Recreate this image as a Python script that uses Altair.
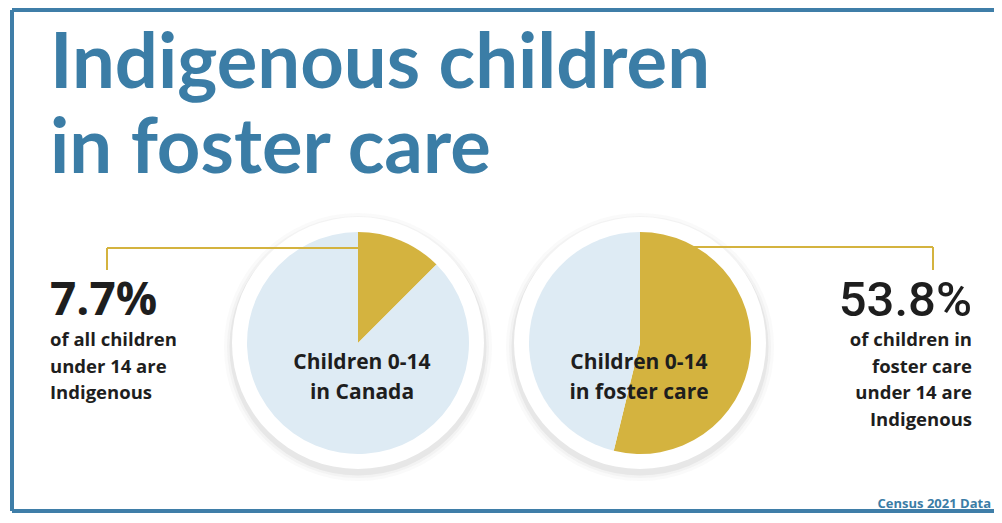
import math
import altair as alt
import pandas as pd

# ---------------- data ----------------
title_lines = ["Indigenous children", "in foster care"]
pie_names = ["Children 0-14 in Canada", "Children 0-14 in foster care"]
pie_label_lines = [["Children 0-14", "in Canada"], ["Children 0-14", "in foster care"]]
slice_parts = ["Indigenous", "Other"]
# share of each pie drawn as the gold (Indigenous) slice, as drawn in the picture
indigenous_slice = [12.5, 53.8]
stat_values = ["7.7%", "53.8%"]
stat_captions = [
    ["of all children", "under 14 are", "Indigenous"],
    ["of children in", "foster care", "under 14 are", "Indigenous"],
]
source_note = "Census 2021 Data"

# ---------------- layout & style ----------------
GOLD = "#d4b33f"
LIGHT = "#deebf4"
BLUE = "#3b7da6"
INK = "#1e1e1e"
TFONT = "Lato"
FONT = "Open Sans"

W, H = 986, 505
X0, Y0 = 8, 8
pie_cx = [358, 640]
pie_cy = [343, 343]
R_PIE = 111
R_RING = 126

xs = alt.Scale(domain=[X0, X0 + W], nice=False, zero=False)
ys = alt.Scale(domain=[Y0, Y0 + H], nice=False, zero=False, reverse=True)
ts = alt.Scale(domain=[0, 100], range=[0, 2 * math.pi])


def X(f):
    return alt.X(f"{f}:Q", scale=xs, axis=None)


def Y(f):
    return alt.Y(f"{f}:Q", scale=ys, axis=None)


# pie slices
rows = []
for i, name in enumerate(pie_names):
    v = indigenous_slice[i]
    rows.append(dict(pie=name, part=slice_parts[0], start=0.0, end=v, cx=pie_cx[i], cy=pie_cy[i]))
    rows.append(dict(pie=name, part=slice_parts[1], start=v, end=100.0, cx=pie_cx[i], cy=pie_cy[i]))
slices = pd.DataFrame(rows)

centers = pd.DataFrame({"pie": pie_names, "cx": pie_cx, "cy": pie_cy, "start": 0.0, "end": 100.0})
shadow = centers.assign(cy=centers["cy"] + 4)

layers = []

# borders
borders = pd.DataFrame({
    "x": [12, 12, 12],
    "x2": [994, 12, 994],
    "y": [10, 10, 511],
    "y2": [10, 511, 511],
})
layers.append(
    alt.Chart(borders).mark_rule(color="#3f7ea8", strokeWidth=4).encode(
        x=X("x"), x2="x2:Q", y=Y("y"), y2="y2:Q"
    )
)

# shadows (full discs)
for r, op in [(134, 0.03), (131, 0.05), (128.5, 0.09)]:
    layers.append(
        alt.Chart(shadow).mark_arc(outerRadius=r, color="#6f6f6f", opacity=op).encode(
            x=X("cx"), y=Y("cy"), theta=alt.Theta("start:Q", scale=ts), theta2="end:Q"
        )
    )
# white rings
layers.append(
    alt.Chart(centers).mark_arc(outerRadius=R_RING, color="#ffffff").encode(
        x=X("cx"), y=Y("cy"), theta=alt.Theta("start:Q", scale=ts), theta2="end:Q"
    )
)
# pies
layers.append(
    alt.Chart(slices).mark_arc(outerRadius=R_PIE).encode(
        x=X("cx"),
        y=Y("cy"),
        theta=alt.Theta("start:Q", scale=ts),
        theta2="end:Q",
        color=alt.Color("part:N", scale=alt.Scale(domain=slice_parts, range=[GOLD, LIGHT]), legend=None),
    )
)

# callout lines
callouts = pd.DataFrame({
    "x": [107, 107, 694, 933],
    "x2": [358, 107, 933, 933],
    "y": [248, 248, 247, 247],
    "y2": [248, 270, 247, 270],
})
layers.append(
    alt.Chart(callouts).mark_rule(color=GOLD, strokeWidth=2).encode(
        x=X("x"), x2="x2:Q", y=Y("y"), y2="y2:Q"
    )
)

# title
title_df = pd.DataFrame({"text": title_lines, "x": [50, 50], "y": [88, 173]})
layers.append(
    alt.Chart(title_df).mark_text(
        align="left", baseline="alphabetic", font=TFONT, fontSize=76, fontWeight="bold", color=BLUE
    ).encode(x=X("x"), y=Y("y"), text="text:N")
)

# big stats
stat_df = pd.DataFrame({"text": stat_values, "x": [50, 972], "y": [315, 316]})
layers.append(
    alt.Chart(stat_df.iloc[[0]]).mark_text(
        align="left", baseline="alphabetic", font=FONT, fontSize=46, fontWeight="bold", color=INK
    ).encode(x=X("x"), y=Y("y"), text="text:N")
)
layers.append(
    alt.Chart(stat_df.iloc[[1]]).mark_text(
        align="right", baseline="alphabetic", font="Roboto", fontSize=49, fontWeight=500, color=INK
    ).encode(x=X("x"), y=Y("y"), text="text:N")
)

# captions
cap_rows = []
for i, lines in enumerate(stat_captions):
    for j, t in enumerate(lines):
        cap_rows.append(dict(text=t, x=[50, 972][i], y=346 + 26.5 * j, side=i))
cap_df = pd.DataFrame(cap_rows)
for side, al in [(0, "left"), (1, "right")]:
    layers.append(
        alt.Chart(cap_df[cap_df.side == side]).mark_text(
            align=al, baseline="alphabetic", font=FONT, fontSize=18.5, fontWeight="bold", color=INK
        ).encode(x=X("x"), y=Y("y"), text="text:N")
    )

# pie labels
lab_rows = []
for i, lines in enumerate(pie_label_lines):
    for j, t in enumerate(lines):
        lab_rows.append(dict(text=t, x=[362, 639][i], y=369 + 30 * j))
lab_df = pd.DataFrame(lab_rows)
layers.append(
    alt.Chart(lab_df).mark_text(
        align="center", baseline="alphabetic", font=FONT, fontSize=21, fontWeight="bold", color=INK
    ).encode(x=X("x"), y=Y("y"), text="text:N")
)

# source note
src_df = pd.DataFrame({"text": [source_note], "x": [991], "y": [508]})
layers.append(
    alt.Chart(src_df).mark_text(
        align="right", baseline="alphabetic", font=FONT, fontSize=13, fontWeight="bold", color=BLUE
    ).encode(x=X("x"), y=Y("y"), text="text:N")
)

chart = (
    alt.layer(*layers)
    .properties(width=W, height=H, padding=0, autosize="none", background="#ffffff")
    .configure_view(stroke=None)
)

chart.save("out.html", embed_options={"renderer": "svg", "actions": False})
